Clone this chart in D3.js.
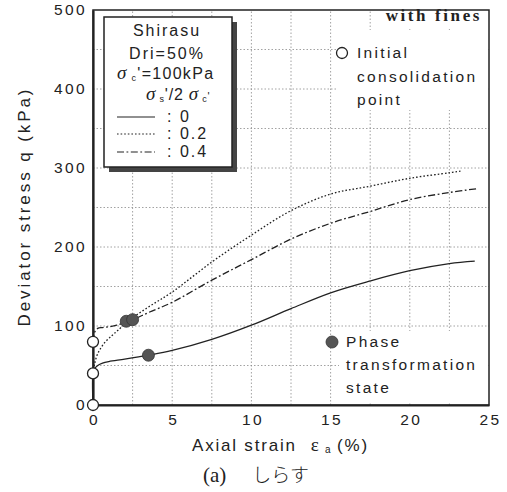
<!DOCTYPE html>
<html>
<head>
<meta charset="utf-8">
<script src="https://cdn.jsdelivr.net/npm/d3@7"></script>
<style>
  body { margin: 0; background: #fff; }
  svg { display: block; }
  text { fill: #222; }
</style>
</head>
<body>
<svg id="chart"></svg>
<script>
const WIDTH = 507, HEIGHT = 492;

// datos
const xTicks = [0, 5, 10, 15, 20, 25];
const yTicks = [0, 100, 200, 300, 400, 500];

const strain00 = [0, 0, 0.1, 0.3, 0.6, 1, 2, 3.5, 5, 7.5, 10, 12.5, 15, 17.5, 20, 22.5, 24.1];
const q00 = [0, 40, 46, 50, 53, 55, 58, 63, 69, 83, 101, 122, 142, 157, 170, 179, 182];

const strain02 = [0, 0.1, 0.3, 0.7, 1.2, 1.6, 2.2, 3.5, 5, 7.5, 10, 12.5, 15, 17.5, 20, 22.5, 23.2];
const q02 = [40, 52, 65, 78, 88, 95, 106, 124, 143, 181, 215, 246, 267, 277, 287, 294, 296];

const strain04 = [0, 0.1, 0.3, 0.6, 1, 1.5, 2.5, 3.5, 5, 7.5, 10, 12.5, 15, 17.5, 20, 22.5, 24.3];
const q04 = [80, 92, 97, 98, 99, 101, 108, 117, 130, 158, 184, 210, 230, 245, 260, 269, 274];

const initialStrain = [0, 0, 0];
const initialQ = [0, 40, 80];
const phaseStrain = [3.5, 2.1, 2.5];
const phaseQ = [63, 106, 108];

const legendLabels = [": 0", ": 0.2", ": 0.4"];

const series = [
  { x: strain00, y: q00, dash: null },
  { x: strain02, y: q02, dash: "1.6,2" },
  { x: strain04, y: q04, dash: "7,2.5,1.8,2.5" },
];

const svg = d3.select("#chart").attr("width", WIDTH).attr("height", HEIGHT);

const x = d3.scaleLinear().domain([0, 25]).range([93, 489]);
const y = d3.scaleLinear().domain([0, 500]).range([405, 10]);

const sans = "'Liberation Sans', Arial, sans-serif";
const serif = "'Liberation Serif', 'Times New Roman', serif";

// grilla punteada
const grid = svg.append("g").attr("id", "grid")
  .attr("stroke", "#8a8a8a").attr("stroke-width", 0.8).attr("stroke-dasharray", "1.5,2");
grid.selectAll("line.v").data(d3.range(2.5, 25, 2.5)).join("line")
  .attr("class", "v")
  .attr("x1", d => x(d)).attr("x2", d => x(d))
  .attr("y1", y(0)).attr("y2", y(500));
grid.selectAll("line.h").data(d3.range(50, 500, 50)).join("line")
  .attr("class", "h")
  .attr("x1", x(0)).attr("x2", x(25))
  .attr("y1", d => y(d)).attr("y2", d => y(d));

// fondos blancos de las anotaciones
svg.append("rect").attr("x", 376).attr("y", 11).attr("width", 111).attr("height", 16).attr("fill", "#fff");
svg.append("rect").attr("x", 336).attr("y", 30).attr("width", 151).attr("height", 80).attr("fill", "#fff");
svg.append("rect").attr("x", 339).attr("y", 331).attr("width", 148).attr("height", 72).attr("fill", "#fff");

// marco
svg.append("rect")
  .attr("x", x(0)).attr("y", y(500))
  .attr("width", x(25) - x(0)).attr("height", y(0) - y(500))
  .attr("fill", "none").attr("stroke", "#222").attr("stroke-width", 1.5);

// ejes
const yAxis = svg.append("g")
  .attr("transform", `translate(${x(0)},0)`)
  .call(d3.axisLeft(y).tickValues(yTicks).tickSize(0).tickPadding(6));
const xAxis = svg.append("g")
  .attr("transform", `translate(0,${y(0)})`)
  .call(d3.axisBottom(x).tickValues(xTicks).tickSize(0).tickPadding(9));

[xAxis, yAxis].forEach(a => {
  a.select(".domain").attr("stroke", "#222").attr("stroke-width", 2.2);
  a.selectAll("text")
    .attr("fill", "#222")
    .style("font-family", sans)
    .style("font-size", "15.5px")
    .style("letter-spacing", "2.4px");
});
xAxis.selectAll("text").attr("dx", "1px");

// titulos de ejes
svg.append("text")
  .attr("transform", "translate(30,208) rotate(-90)")
  .attr("text-anchor", "middle")
  .attr("textLength", 237).attr("lengthAdjust", "spacing")
  .style("font-family", sans).style("font-size", "17px")
  .text("Deviator stress  q (kPa)");

const xt = svg.append("text")
  .attr("x", 192).attr("y", 451)
  .style("font-family", sans).style("font-size", "17px").style("letter-spacing", "1.8px");
xt.append("tspan").text("Axial strain");
xt.append("tspan").attr("dx", 14).style("font-family", serif).style("font-size", "19px").text("ε");
xt.append("tspan").attr("dy", 2).style("font-size", "10px").text(" a ");
xt.append("tspan").attr("dy", -2).text("(%)");

const cap = svg.append("text").attr("x", 203).attr("y", 482);
cap.append("tspan").style("font-family", serif).style("font-size", "21px").text("(a)");
cap.append("tspan").attr("dx", 26)
  .style("font-family", "'Noto Sans CJK JP', sans-serif").style("font-weight", 300)
  .style("font-size", "19px").text("しらす");

// curvas
svg.append("g").selectAll("path").data(series).join("path")
  .attr("d", s => {
    const pts = s.x.map((v, i) => [v, s.y[i]]);
    return d3.line().x(d => x(d[0])).y(d => y(d[1])).curve(d3.curveCatmullRom.alpha(0.5))(pts);
  })
  .attr("fill", "none").attr("stroke", "#222").attr("stroke-width", 1.3)
  .attr("stroke-dasharray", s => s.dash);

// puntos
svg.append("g").selectAll("circle").data(initialStrain.map((v, i) => [v, initialQ[i]])).join("circle")
  .attr("cx", d => x(d[0])).attr("cy", d => y(d[1])).attr("r", 5.5)
  .attr("fill", "#fff").attr("stroke", "#222").attr("stroke-width", 1.3);
svg.append("g").selectAll("circle").data(phaseStrain.map((v, i) => [v, phaseQ[i]])).join("circle")
  .attr("cx", d => x(d[0])).attr("cy", d => y(d[1])).attr("r", 6)
  .attr("fill", "#555").attr("stroke", "#333").attr("stroke-width", 0.8);

// leyenda
const leg = svg.append("g").attr("id", "legend");
leg.append("rect").attr("x", 109).attr("y", 22).attr("width", 128).attr("height", 150).attr("fill", "#444");
leg.append("rect").attr("x", 104).attr("y", 17).attr("width", 128).attr("height", 150)
  .attr("fill", "#fff").attr("stroke", "#222").attr("stroke-width", 1.5);

const legText = (xx, yy, anchor) => leg.append("text")
  .attr("x", xx).attr("y", yy).attr("text-anchor", anchor)
  .style("font-family", sans).style("font-size", "16px").style("letter-spacing", "2px");

legText(167, 36, "middle").text("Shirasu");
legText(167, 59, "middle").text("Dri=50%");
const s1 = legText(117, 79, "start").style("letter-spacing", "1.3px");
s1.append("tspan").style("font-family", serif).style("font-style", "italic").style("font-size", "19px").text("σ");
s1.append("tspan").attr("dy", 2).style("font-size", "9px").text(" c");
s1.append("tspan").attr("dy", -2).text("'=100kPa");
const s2 = legText(146, 100, "start").style("letter-spacing", "0.8px");
s2.append("tspan").style("font-family", serif).style("font-style", "italic").style("font-size", "19px").text("σ");
s2.append("tspan").attr("dy", 2).style("font-size", "9px").text(" s");
s2.append("tspan").attr("dy", -2).text("'/2 ");
s2.append("tspan").style("font-family", serif).style("font-style", "italic").style("font-size", "19px").text("σ");
s2.append("tspan").attr("dy", 2).style("font-size", "9px").text(" c");
s2.append("tspan").attr("dy", -2).style("font-size", "11px").text("'");

const legRows = [117, 134, 152];
series.forEach((s, i) => {
  leg.append("line")
    .attr("x1", 117).attr("x2", 155).attr("y1", legRows[i]).attr("y2", legRows[i])
    .attr("stroke", "#222").attr("stroke-width", 1.2).attr("stroke-dasharray", s.dash);
  legText(167, legRows[i] + 5, "start").text(legendLabels[i]);
});

// anotaciones
svg.append("text").attr("x", 482).attr("y", 21).attr("text-anchor", "end")
  .style("font-family", serif).style("font-weight", "bold").style("font-size", "17px")
  .style("letter-spacing", "2.6px").text("with fines");

const ann = (xx, yy, t) => svg.append("text").attr("x", xx).attr("y", yy)
  .style("font-family", sans).style("font-size", "15.5px").style("letter-spacing", "2.3px").text(t);

svg.append("circle").attr("cx", 342).attr("cy", 53).attr("r", 5.5)
  .attr("fill", "#fff").attr("stroke", "#222").attr("stroke-width", 1.3);
ann(357, 58, "Initial");
ann(357, 82, "consolidation");
ann(357, 105, "point");

svg.append("circle").attr("cx", 332).attr("cy", 342).attr("r", 6)
  .attr("fill", "#555").attr("stroke", "#333").attr("stroke-width", 0.8);
ann(346, 347, "Phase");
ann(346, 370, "transformation");
ann(346, 393, "state");
</script>
</body>
</html>
